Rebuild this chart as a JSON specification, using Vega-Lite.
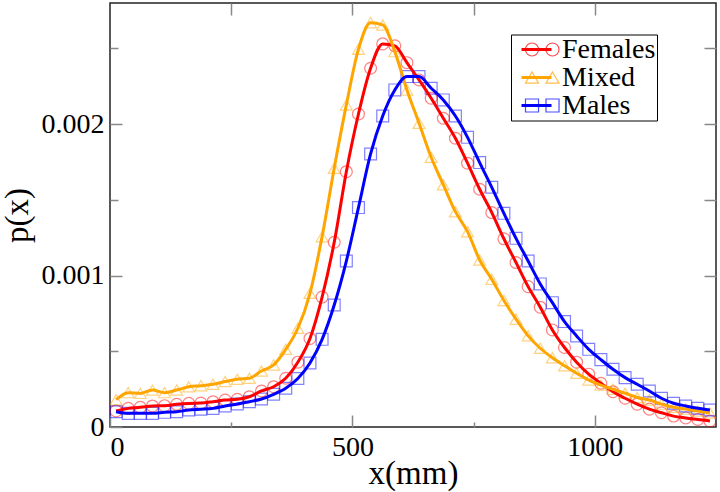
{
  "$schema": "https://vega.github.io/schema/vega-lite/v6.json",
  "width": 606,
  "height": 424,
  "autosize": {"type": "none"},
  "padding": {"left": 110, "top": 3, "right": 4, "bottom": 65},
  "background": "white",
  "data": {"values": [
    {"x": 12.5, "Females": 0.000106, "Mixed": 0.00018, "Males": 0.000101},
    {"x": 37.5, "Females": 0.000123, "Mixed": 0.000227, "Males": 0.00009},
    {"x": 62.5, "Females": 0.00013, "Mixed": 0.000222, "Males": 0.00009},
    {"x": 87.5, "Females": 0.000139, "Mixed": 0.000244, "Males": 0.00009},
    {"x": 112.5, "Females": 0.000141, "Mixed": 0.000227, "Males": 0.000097},
    {"x": 137.5, "Females": 0.00015, "Mixed": 0.000244, "Males": 0.000101},
    {"x": 162.5, "Females": 0.000156, "Mixed": 0.000266, "Males": 0.000112},
    {"x": 187.5, "Females": 0.000158, "Mixed": 0.000273, "Males": 0.000117},
    {"x": 212.5, "Females": 0.000167, "Mixed": 0.000282, "Males": 0.000123},
    {"x": 237.5, "Females": 0.000178, "Mixed": 0.0003, "Males": 0.000139},
    {"x": 262.5, "Females": 0.000183, "Mixed": 0.000315, "Males": 0.000152},
    {"x": 287.5, "Females": 0.0002, "Mixed": 0.000322, "Males": 0.000167},
    {"x": 312.5, "Females": 0.000238, "Mixed": 0.00037, "Males": 0.000185},
    {"x": 337.5, "Females": 0.000266, "Mixed": 0.00041, "Males": 0.000216},
    {"x": 362.5, "Females": 0.000322, "Mixed": 0.000513, "Males": 0.000256},
    {"x": 387.5, "Females": 0.000428, "Mixed": 0.000652, "Males": 0.00032},
    {"x": 412.5, "Females": 0.000585, "Mixed": 0.000883, "Males": 0.000423},
    {"x": 437.5, "Females": 0.000858, "Mixed": 0.001257, "Males": 0.000579},
    {"x": 462.5, "Females": 0.00122, "Mixed": 0.001709, "Males": 0.000806},
    {"x": 487.5, "Females": 0.001686, "Mixed": 0.002127, "Males": 0.001096},
    {"x": 512.5, "Females": 0.002067, "Mixed": 0.002495, "Males": 0.001449},
    {"x": 537.5, "Females": 0.002369, "Mixed": 0.00267, "Males": 0.001803},
    {"x": 562.5, "Females": 0.00253, "Mixed": 0.002655, "Males": 0.002054},
    {"x": 587.5, "Females": 0.002517, "Mixed": 0.002479, "Males": 0.002226},
    {"x": 612.5, "Females": 0.002406, "Mixed": 0.002226, "Males": 0.002314},
    {"x": 637.5, "Females": 0.002292, "Mixed": 0.002006, "Males": 0.002314},
    {"x": 662.5, "Females": 0.002171, "Mixed": 0.001781, "Males": 0.002237},
    {"x": 687.5, "Females": 0.002039, "Mixed": 0.0016, "Males": 0.00216},
    {"x": 712.5, "Females": 0.001907, "Mixed": 0.001422, "Males": 0.002054},
    {"x": 737.5, "Females": 0.001742, "Mixed": 0.00129, "Males": 0.001913},
    {"x": 762.5, "Females": 0.00157, "Mixed": 0.001103, "Males": 0.001746},
    {"x": 787.5, "Females": 0.001416, "Mixed": 0.000975, "Males": 0.001583},
    {"x": 812.5, "Females": 0.001243, "Mixed": 0.000836, "Males": 0.001411},
    {"x": 837.5, "Females": 0.001086, "Mixed": 0.000712, "Males": 0.001246},
    {"x": 862.5, "Females": 0.000927, "Mixed": 0.000602, "Males": 0.001096},
    {"x": 887.5, "Females": 0.000791, "Mixed": 0.00052, "Males": 0.000945},
    {"x": 912.5, "Females": 0.000641, "Mixed": 0.000457, "Males": 0.000821},
    {"x": 937.5, "Females": 0.000525, "Mixed": 0.000404, "Males": 0.000696},
    {"x": 962.5, "Females": 0.000428, "Mixed": 0.000355, "Males": 0.000601},
    {"x": 987.5, "Females": 0.000349, "Mixed": 0.00031, "Males": 0.000513},
    {"x": 1012.5, "Females": 0.000289, "Mixed": 0.000277, "Males": 0.000445},
    {"x": 1037.5, "Females": 0.000233, "Mixed": 0.000249, "Males": 0.000381},
    {"x": 1062.5, "Females": 0.00019, "Mixed": 0.000223, "Males": 0.000326},
    {"x": 1087.5, "Females": 0.000151, "Mixed": 0.000195, "Males": 0.000282},
    {"x": 1112.5, "Females": 0.000118, "Mixed": 0.000178, "Males": 0.000238},
    {"x": 1137.5, "Females": 0.000094, "Mixed": 0.000151, "Males": 0.00019},
    {"x": 1162.5, "Females": 0.000072, "Mixed": 0.00013, "Males": 0.000157},
    {"x": 1187.5, "Females": 0.00006, "Mixed": 0.000118, "Males": 0.000139},
    {"x": 1212.5, "Females": 0.00005, "Mixed": 0.000105, "Males": 0.000124},
    {"x": 1237.5, "Females": 0.00004, "Mixed": 0.000092, "Males": 0.000112}
  ]},
  "layer": [
    {
      "transform": [{"fold": ["Females", "Mixed", "Males"], "as": ["group", "p"]}],
      "mark": {"type": "point", "filled": false, "size": 140, "strokeWidth": 1.2, "strokeOpacity": 0.7, "clip": true},
      "encoding": {
        "x": {"field": "x", "type": "quantitative", "scale": {"domain": [0, 1250], "nice": false},
          "axis": {"orient": "top", "values": [250, 500, 750, 1000], "labels": false, "tickSize": -12, "title": null}},
        "y": {"field": "p", "type": "quantitative", "scale": {"domain": [0, 0.0028], "nice": false, "zero": true},
          "axis": {"orient": "right", "values": [0.0005, 0.001, 0.0015, 0.002, 0.0025], "labels": false, "tickSize": -12, "title": null}},
        "shape": {"field": "group", "type": "nominal",
          "scale": {"domain": ["Females", "Mixed", "Males"], "range": ["circle", "triangle-up", "square"]},
          "legend": {"orient": "none", "legendX": 407, "legendY": 31.5, "title": null, "symbolSize": 170, "symbolStrokeWidth": 1.2, "labelFontSize": 28, "labelFont": "Liberation Serif", "labelOpacity": 0, "clipHeight": 28, "rowPadding": 0, "padding": 1}},
        "stroke": {"field": "group", "type": "nominal",
          "scale": {"domain": ["Females", "Mixed", "Males"], "range": ["#ff0000", "#ffa500", "#0000ff"]},
          "legend": {"orient": "none", "legendX": 407, "legendY": 31.5, "title": null, "symbolSize": 170, "symbolStrokeWidth": 1.2, "labelFontSize": 28, "labelFont": "Liberation Serif", "labelOpacity": 0, "clipHeight": 28, "rowPadding": 0, "padding": 1}}
      }
    },
    {
      "transform": [{"fold": ["Females", "Mixed", "Males"], "as": ["grp", "p"]}, {"filter": "datum.x < 0"}],
      "mark": {"type": "point", "filled": false, "size": 170, "strokeWidth": 1.2, "strokeOpacity": 0.7},
      "encoding": {
        "x": {"field": "x", "type": "quantitative", "axis": null},
        "y": {"field": "p", "type": "quantitative", "axis": null},
        "shape": {"field": "grp", "type": "nominal",
          "scale": {"domain": ["Females", "Mixed", "Males"], "range": ["circle", "triangle-up", "square"]},
          "legend": {"orient": "none", "legendX": 427.5, "legendY": 31.5, "title": null, "symbolSize": 170, "symbolStrokeWidth": 1.2, "labelFontSize": 28, "labelFont": "Liberation Serif", "labelOpacity": 0, "clipHeight": 28, "rowPadding": 0, "padding": 1}},
        "stroke": {"field": "grp", "type": "nominal",
          "scale": {"domain": ["Females", "Mixed", "Males"], "range": ["#ff0000", "#ffa500", "#0000ff"]},
          "legend": {"orient": "none", "legendX": 427.5, "legendY": 31.5, "title": null, "symbolSize": 170, "symbolStrokeWidth": 1.2, "labelFontSize": 28, "labelFont": "Liberation Serif", "labelOpacity": 0, "clipHeight": 28, "rowPadding": 0, "padding": 1}}
      }
    },
    {
      "transform": [{"fold": ["Females", "Mixed", "Males"], "as": ["series", "p"]}],
      "mark": {"type": "line", "strokeWidth": 3, "interpolate": "monotone", "clip": true},
      "encoding": {
        "x": {"field": "x", "type": "quantitative",
          "axis": {"orient": "bottom", "values": [0, 250, 500, 750, 1000], "format": "d",
            "labelExpr": "datum.value % 500 === 0 ? datum.label : ''",
            "tickSize": {"condition": {"test": "datum.value % 500 === 0", "value": -12}, "value": -5},
            "labelPadding": 18, "title": "x(mm)", "titlePadding": -4, "titleFontSize": 33}},
        "y": {"field": "p", "type": "quantitative",
          "axis": {"orient": "left", "values": [0, 0.0005, 0.001, 0.0015, 0.002, 0.0025],
            "labelExpr": "round(datum.value * 2000) % 2 === 0 ? (datum.value === 0 ? '0' : format(datum.value, '.3f')) : ''",
            "tickSize": {"condition": {"test": "round(datum.value * 2000) % 2 === 0", "value": -12}, "value": -8},
            "labelPadding": 18, "title": "p(x)", "titlePadding": 7, "titleFontSize": 33}},
        "color": {"field": "series", "type": "nominal",
          "scale": {"domain": ["Females", "Mixed", "Males"], "range": ["#ff0000", "#ffa500", "#0000ff"]},
          "legend": {"orient": "none", "legendX": 401, "legendY": 31.5, "title": null, "symbolType": "stroke", "symbolStrokeWidth": 3, "symbolSize": 900, "symbolOffset": 8, "labelFontSize": 28, "labelFont": "Liberation Serif", "labelColor": "#000", "labelOffset": 9, "clipHeight": 28, "rowPadding": 0, "padding": 1, "strokeColor": "#000", "labelLimit": 400}}
      }
    }
  ],
  "resolve": {"axis": {"x": "independent", "y": "independent"}, "scale": {"shape": "independent", "stroke": "independent"}},
  "config": {
    "font": "Liberation Serif",
    "view": {"stroke": "#222", "strokeWidth": 1.5},
    "axis": {"domain": false, "grid": false, "labelFont": "Liberation Serif", "labelFontSize": 28, "labelColor": "#000", "tickColor": "#888", "tickWidth": 1.5, "titleFont": "Liberation Serif", "titleFontSize": 34, "titleFontWeight": "normal", "titleColor": "#000"}
  }
}
